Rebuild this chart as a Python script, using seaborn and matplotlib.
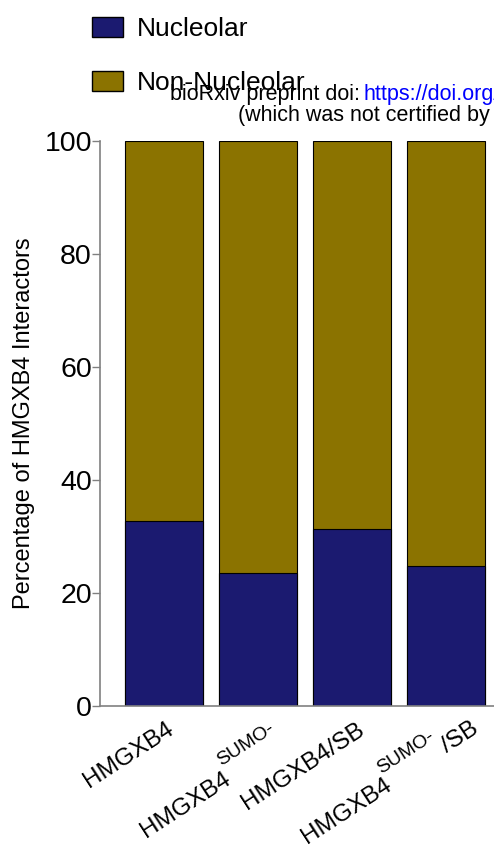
import numpy as np
import pandas as pd
import seaborn as sns
import matplotlib.pyplot as plt
from matplotlib.patches import Patch
from matplotlib.transforms import offset_copy

# values
groups = ["HMGXB4", "SUMO-HMGXB4", "HMGXB4/SB", "SUMO-HMGXB4/SB"]
nucleolar = [32.8, 23.6, 31.3, 24.8]
non_nucleolar = [67.2, 76.4, 68.7, 75.2]

# x labels are drawn in pieces (the SUMO- prefix sits raised and smaller)
# (group index, text, font size, dx px, dy px below the axis)
label_parts = [
    (0, "HMGXB4", 17.5, 2, 12),
    (1, "SUMO-", 14, 10, 14),
    (1, "HMGXB4", 17.5, -35, 62),
    (2, "HMGXB4/SB", 17.5, 4, 13),
    (3, "/SB", 17.5, 24, 12),
    (3, "SUMO-", 14, -18, 22),
    (3, "HMGXB4", 17.5, -62, 68),
]
label_angle = 33

navy = "#1b1a70"
olive = "#8b7300"

df = pd.DataFrame({"group": groups,
                   "nucleolar": nucleolar,
                   "non_nucleolar": non_nucleolar})
df["total"] = df["nucleolar"] + df["non_nucleolar"]

sns.set_theme(style="white")
plt.rcParams['font.family'] = ['Liberation Sans', 'DejaVu Sans']
plt.rcParams['text.color'] = 'black'
plt.rcParams['axes.labelcolor'] = 'black'
plt.rcParams['ytick.color'] = '#808080'
plt.rcParams['ytick.labelcolor'] = 'black'

fig = plt.figure(figsize=(4.94, 8.48), dpi=100)
ax = fig.add_axes([100 / 494, 1 - 706 / 848, 394 / 494, (706 - 141) / 848])

# stacked bars: total first (olive), nucleolar on top of it (navy)
sns.barplot(data=df, x="group", y="total", color=olive, width=0.83,
            edgecolor="black", linewidth=0.8, saturation=1, ax=ax)
sns.barplot(data=df, x="group", y="nucleolar", color=navy, width=0.83,
            edgecolor="black", linewidth=0.8, saturation=1, ax=ax)

ax.set_ylim(0, 100)
ax.set_xlim(-0.68, 3.51)
ax.set_yticks([0, 20, 40, 60, 80, 100])
ax.tick_params(axis="y", length=5.8, width=1, pad=0, labelsize=20.5, left=True)
ax.set_xticks(range(len(groups)))
ax.set_xticklabels([])
ax.tick_params(axis="x", length=0)
ax.set_xlabel("")
ax.set_ylabel("Percentage of HMGXB4 Interactors", fontsize=17, labelpad=7)
sns.despine(ax=ax)
for s in ["left", "bottom"]:
    ax.spines[s].set_color("#808080")
    ax.spines[s].set_linewidth(1.2)

xtrans = ax.get_xaxis_transform()
for i, txt, size, dx, dy in label_parts:
    tr = offset_copy(xtrans, fig=fig, x=dx, y=-dy, units="dots")
    ax.text(i, 0, txt, transform=tr, fontsize=size, rotation=label_angle,
            ha="right", va="top", rotation_mode="anchor", clip_on=False)

handles = [Patch(facecolor=navy, edgecolor="black", label="Nucleolar"),
           Patch(facecolor=olive, edgecolor="black", label="Non-Nucleolar")]
fig.legend(handles=handles, loc="upper left", bbox_to_anchor=(81 / 494, 1 - 6 / 848),
           frameon=False, fontsize=19, handlelength=1.2, handleheight=0.8,
           handletextpad=0.5, labelspacing=1.15, borderaxespad=0)

# preprint watermark, clipped at the right edge
fig.text(170 / 494, 1 - 100 / 848, "bioRxiv preprint doi:", fontsize=15.5,
         va="baseline")
fig.text(363 / 494, 1 - 100 / 848, "https://doi.org/10.1101/", fontsize=15.5,
         color="blue", va="baseline")
fig.text(238 / 494, 1 - 121 / 848, "(which was not certified by peer review)",
         fontsize=15.5, va="baseline")

fig.savefig("out.png", dpi=100)
